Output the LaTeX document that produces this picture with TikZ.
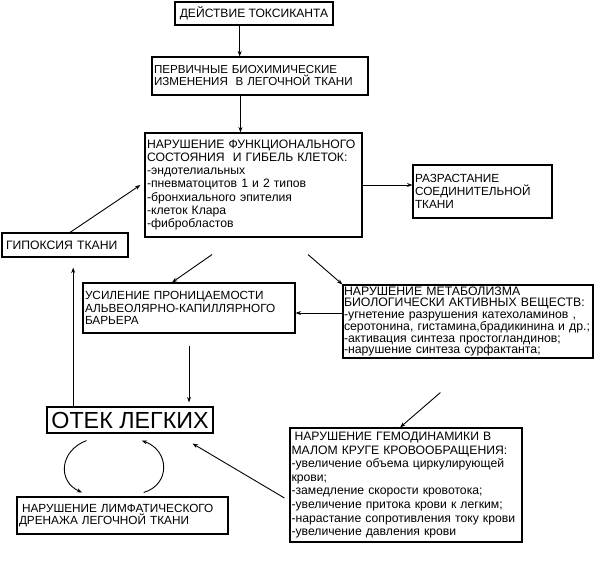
\documentclass[tikz,border=0pt]{standalone}
\usepackage{fontspec}
\setmainfont{Liberation Sans}
\usetikzlibrary{calc,arrows.meta}

% font of a box: size, leading
\newcommand{\boxfont}[2]{\fontsize{#1}{#2}\selectfont}

\begin{document}
\begin{tikzpicture}[x=1pt,y=-1pt,
        box/.style={draw, line width=1.1pt, inner xsep=2pt, inner ysep=1pt, align=left,
                    font=\boxfont{11.6}{12}},
        arr/.style={-{Stealth[length=5.5pt,width=4pt]}, line width=0.9pt}]
        \useasboundingbox (0,0) rectangle (604,562);

        % Boxes
        \node[box, align=center, minimum width=158pt, minimum height=23pt, font=\boxfont{12.1}{13}] (toxic) at (254,13.5) {ДЕЙСТВИЕ ТОКСИКАНТА};
        \node[box, text width=212pt, minimum height=38pt] (primary) at (260,76)
            {ПЕРВИЧНЫЕ БИОХИМИЧЕСКИЕ\\ИЗМЕНЕНИЯ \ В ЛЕГОЧНОЙ ТКАНИ};
        \node[box, text width=213pt, minimum height=104pt, font=\boxfont{12.2}{13.3}] (cells) at (253.5,185)
            {НАРУШЕНИЕ ФУНКЦИОНАЛЬНОГО\\СОСТОЯНИЯ \ И ГИБЕЛЬ КЛЕТОК:\\-эндотелиальных\\-пневматоцитов 1 и 2 типов\\-бронхиального эпителия\\-клеток Клара\\-фибробластов};
        \node[box, text width=135pt, minimum height=53pt, font=\boxfont{11.8}{13}] (growth) at (482.5,191.5)
            {РАЗРАСТАНИЕ\\СОЕДИНИТЕЛЬНОЙ\\ТКАНИ};
        \node[box, text width=122pt, minimum height=24pt, font=\boxfont{12.2}{13}] (hypoxia) at (65,245)
            {\hspace{2pt}ГИПОКСИЯ ТКАНИ};
        \node[box, text width=208pt, minimum height=50pt, font=\boxfont{11.8}{12.5}] (perm) at (189,308)
            {УСИЛЕНИЕ ПРОНИЦАЕМОСТИ\\АЛЬВЕОЛЯРНО-КАПИЛЛЯРНОГО\\БАРЬЕРА};
        \node[box, text width=248pt, inner xsep=1pt, minimum height=73pt, font=\boxfont{12.3}{11.7}] (metab) at (468,321.5)
            {НАРУШЕНИЕ МЕТАБОЛИЗМА\\БИОЛОГИЧЕСКИ АКТИВНЫХ ВЕЩЕСТВ:\\-угнетение разрушения катехоламинов ,\\серотонина, гистамина,брадикинина и др.;\\-активация синтеза простогландинов;\\-нарушение синтеза сурфактанта;};
        \node[box, align=center, minimum width=166pt, minimum height=26pt, font=\boxfont{23.3}{24}] (edema) at (130,420)
            {ОТЕК ЛЕГКИХ};
        \node[box, text width=207pt, minimum height=37pt, font=\boxfont{11.8}{12.5}] (lymph) at (122.5,515.5)
            {\hspace{3pt}НАРУШЕНИЕ ЛИМФАТИЧЕСКОГО\\ДРЕНАЖА ЛЕГОЧНОЙ ТКАНИ};
        \node[box, text width=229pt, inner xsep=1.5pt, minimum height=114pt, font=\boxfont{12.2}{13.6}] (hemo) at (406,485)
            {\hspace{3pt}НАРУШЕНИЕ ГЕМОДИНАМИКИ В\\МАЛОМ КРУГЕ КРОВООБРАЩЕНИЯ:\\-увеличение объема циркулирующей\\крови;\\-замедление скорости кровотока;\\-увеличение притока крови к легким;\\-нарастание~сопротивления~току~крови\\-увеличение давления крови};

        % Arrows
        \draw[arr] ($(toxic.south west)!0.41!(toxic.south east)$) coordinate (t1) -- (t1 |- primary.north);
        \draw[arr] ($(primary.south west)!0.41!(primary.south east)$) coordinate (t2) -- (t2 |- cells.north);
        \draw[arr] (cells.east) -- (cells.east -| growth.west);
        \draw[arr] ($(hypoxia.north)+(5,0)$) -- ([xshift=-4pt]cells.west);
        \draw[arr] ($(edema.north west)!0.16!(edema.north east)$) coordinate (t5) -- ([yshift=-10pt]t5 |- hypoxia.south);
        \draw[arr] ($(cells.south west)!0.31!(cells.south east)+(0,17)$) -- ($(perm.north west)!0.42!(perm.north east)$);
        \draw[arr] ($(cells.south west)!0.75!(cells.south east)+(0,17)$) -- (metab.north west);
        \draw[arr] ([yshift=-5pt]metab.west |- perm.east) -- ([yshift=-5pt]perm.east);
        \draw[arr] ([yshift=-12pt]perm.south) coordinate (t9) -- ([yshift=4pt]t9 |- edema.north);
        \draw[arr] ($(metab.south west)!0.39!(metab.south east)+(0,34)$) -- ([xshift=-6pt]hemo.north);
        \draw[arr] ($(hemo.west)+(-5,13)$) -- ($(edema.south east)+(-21,10)$);

        % Loop between edema and lymph drainage
        \coordinate (l1) at ($(edema.south west)!0.24!(edema.south east)+(0,7)$);
        \coordinate (l2) at ($(lymph.north west)!0.31!(lymph.north east)+(0,-4)$);
        \coordinate (r1) at ($(lymph.north west)!0.60!(lymph.north east)+(0,-4)$);
        \coordinate (r2) at ($(edema.south west)!0.57!(edema.south east)+(0,7)$);
        \draw[arr] (l1) .. controls +(-27,10) and +(-25,-11) .. (l2);
        \draw[arr] (r1) .. controls +(27,-8) and +(28,10) .. (r2);
\end{tikzpicture}
\end{document}
